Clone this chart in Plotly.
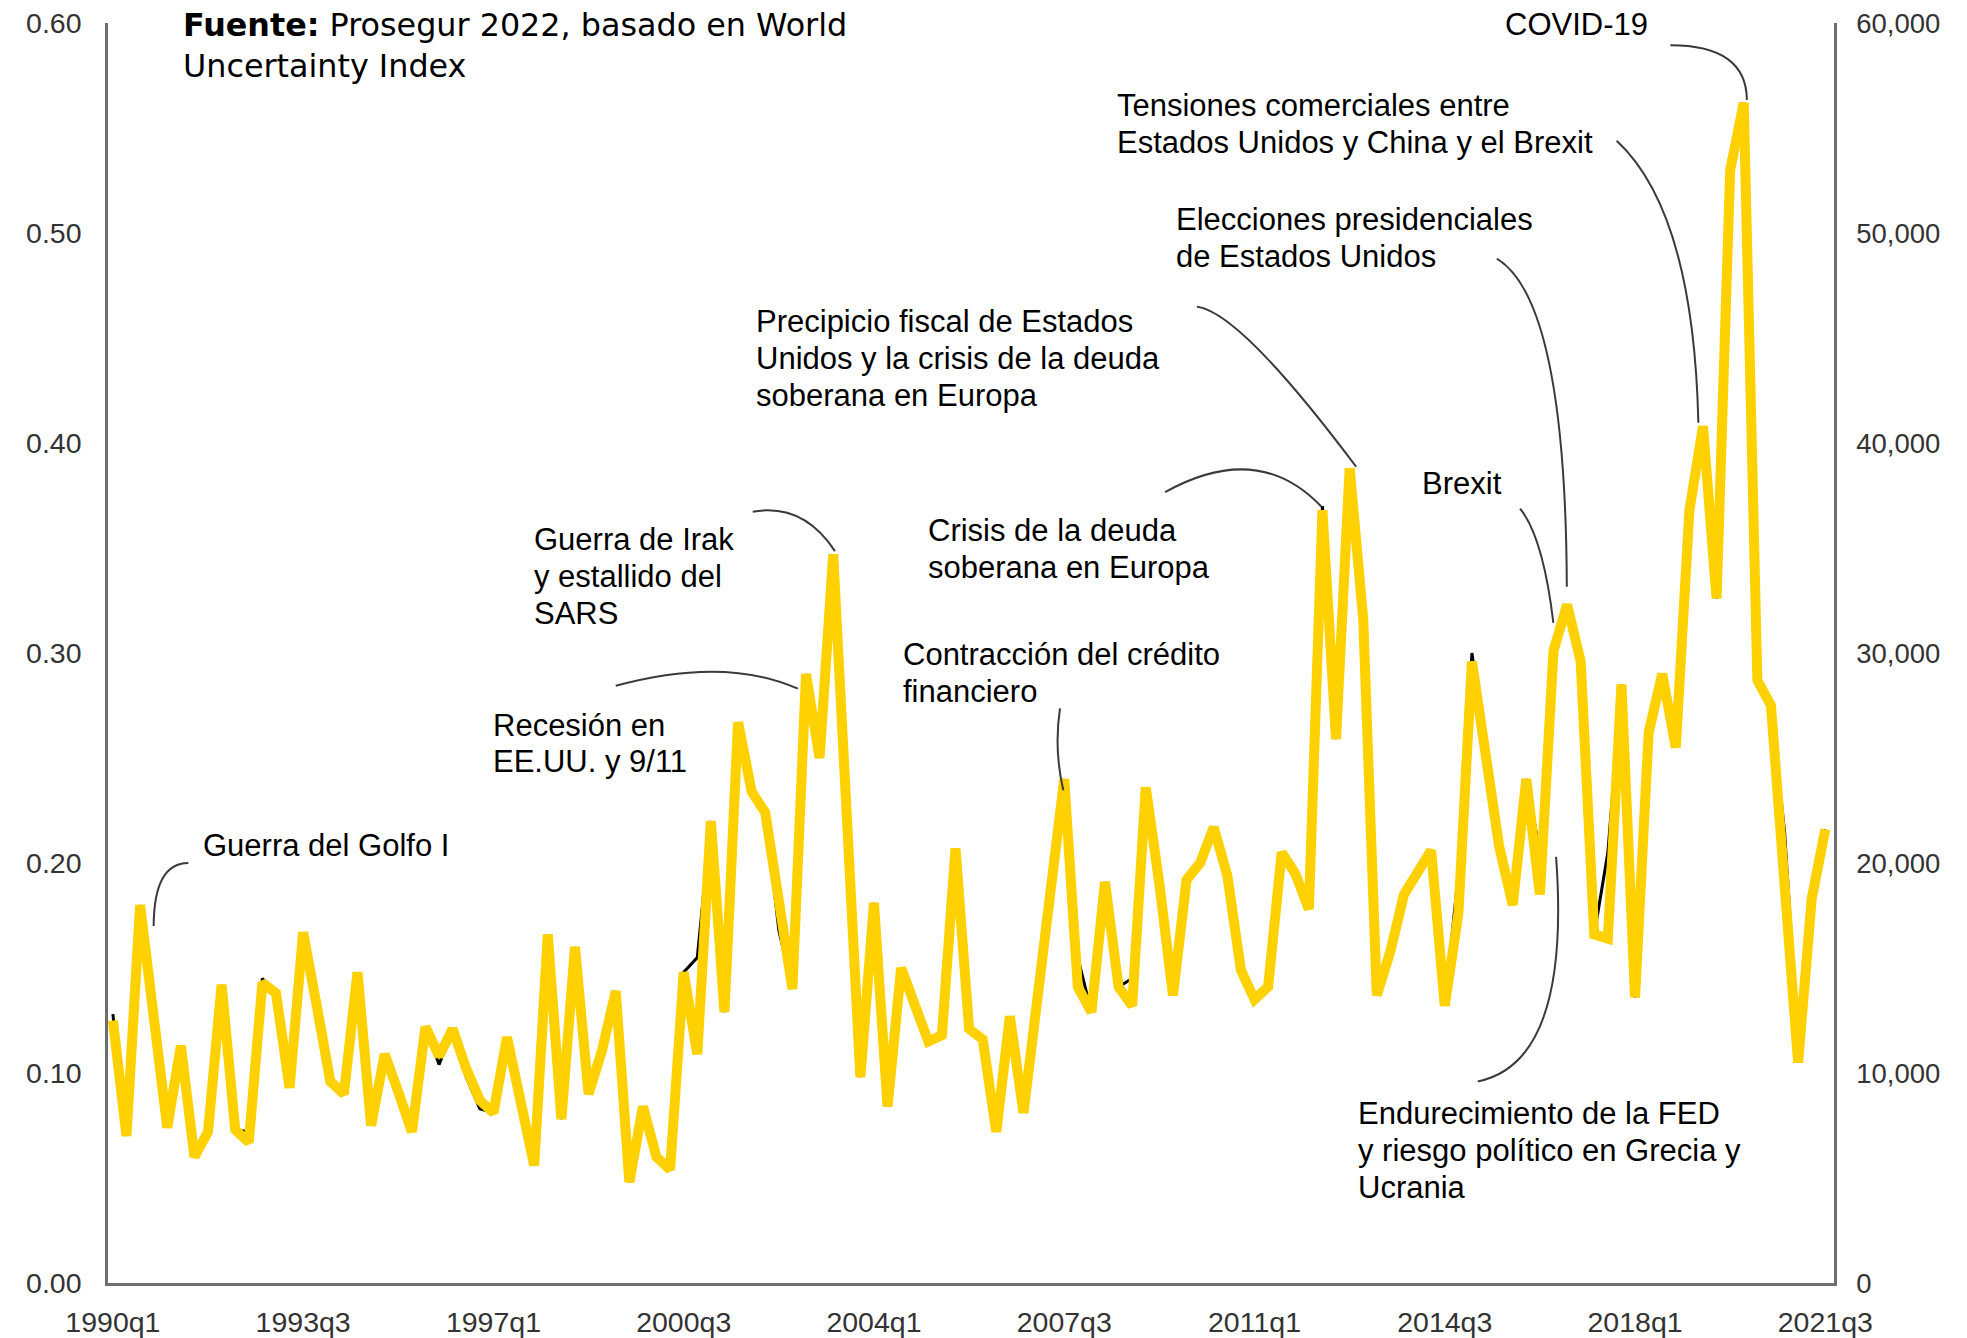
import plotly.graph_objects as go

# ---------------- data ----------------
quarters = [f"{y}q{q}" for y in range(1990, 2022) for q in range(1, 5)][:127]

wui_index = [
    0.125, 0.070, 0.180, 0.125, 0.074, 0.113, 0.060, 0.072, 0.142, 0.073,
    0.067, 0.143, 0.138, 0.093, 0.167, 0.132, 0.096, 0.090, 0.148, 0.075,
    0.109, 0.091, 0.072, 0.122, 0.108, 0.121, 0.102, 0.087, 0.081, 0.117,
    0.089, 0.056, 0.166, 0.078, 0.160, 0.090, 0.111, 0.139, 0.048, 0.084,
    0.060, 0.054, 0.148, 0.109, 0.220, 0.129, 0.267, 0.234, 0.224, 0.182,
    0.140, 0.290, 0.250, 0.347, 0.222, 0.098, 0.181, 0.084, 0.150, 0.134,
    0.115, 0.118, 0.207, 0.121, 0.116, 0.072, 0.127, 0.081, 0.132, 0.188,
    0.240, 0.141, 0.129, 0.191, 0.141, 0.132, 0.236, 0.190, 0.137, 0.192,
    0.200, 0.217, 0.194, 0.149, 0.135, 0.141, 0.205, 0.195, 0.178, 0.368,
    0.259, 0.388, 0.316, 0.137, 0.158, 0.185, 0.196, 0.206, 0.132, 0.176,
    0.296, 0.252, 0.208, 0.180, 0.240, 0.185, 0.301, 0.323, 0.296, 0.166,
    0.164, 0.285, 0.136, 0.262, 0.290, 0.255, 0.368, 0.408, 0.326, 0.530,
    0.562, 0.287, 0.275, 0.190, 0.105, 0.183, 0.216,
]

wui_weighted = [
    12800, 7000, 18000, 12500, 7400, 11300, 6000, 7200, 14200, 7300,
    7200, 14500, 13800, 9300, 16700, 12500, 9600, 9000, 14800, 7500,
    10900, 9100, 7200, 12200, 10400, 12100, 9800, 8300, 8100, 11700,
    8900, 5600, 16600, 7800, 16000, 9000, 11100, 13900, 4800, 8400,
    6000, 5400, 14800, 15500, 22000, 12900, 26700, 23400, 22400, 16800,
    14000, 29000, 25000, 34700, 22200, 9800, 18100, 8400, 15000, 13400,
    11500, 11800, 20700, 12100, 11600, 7200, 12700, 8100, 14000, 19500,
    24000, 15500, 12900, 19100, 14100, 14500, 23600, 19500, 14500, 19200,
    20000, 21700, 18800, 14900, 13500, 14100, 20500, 19500, 17800, 37000,
    25900, 38800, 31600, 13700, 15800, 18500, 19600, 20600, 13200, 19500,
    30000, 25200, 20800, 18000, 24000, 20500, 30100, 32300, 29600, 16600,
    20500, 28500, 13600, 26200, 29000, 25500, 36800, 40800, 32600, 53000,
    56200, 28700, 27500, 21500, 11500, 18300, 21600,
]

x_idx = list(range(len(quarters)))
tick_pos = list(range(0, len(quarters), 14))
tick_txt = [quarters[i] for i in tick_pos]

left_ticks = [0.0, 0.1, 0.2, 0.3, 0.4, 0.5, 0.6]
right_ticks = [0, 10000, 20000, 30000, 40000, 50000, 60000]

# annotation texts: (lines, x in quarter index, y of first line centre in left-axis units)
notes = [
    (["Guerra del Golfo I"], 6.45, 0.2084),
    (["Recesión en", "EE.UU. y 9/11"], 27.8, 0.2657),
    (["Guerra de Irak", "y estallido del", "SARS"], 30.85, 0.3540),
    (["Precipicio fiscal de Estados", "Unidos y la crisis de la deuda", "soberana en Europa"], 47.2, 0.4579),
    (["Crisis de la deuda", "soberana en Europa"], 59.85, 0.3582),
    (["Contracción del crédito", "financiero"], 58.0, 0.2991),
    (["Brexit"], 96.2, 0.3809),
    (["Elecciones presidenciales", "de Estados Unidos"], 78.1, 0.5063),
    (["Tensiones comerciales entre", "Estados Unidos y China y el Brexit"], 73.7, 0.5606),
    (["COVID-19"], 102.3, 0.5994),
    (["Endurecimiento de la FED", "y riesgo político en Grecia y", "Ucrania"], 91.5, 0.0806),
]
line_step = 0.0176

source_lines = ["<b>Fuente:</b> Prosegur 2022, basado en World", "Uncertainty Index"]
source_pos = (5.0, 0.5994)
source_step = 0.0197

# connector curves: (start, control, end)
connectors = [
    ((5.55, 0.200), (3.02, 0.200), (3.00, 0.170)),
    ((37.0, 0.2844), (45.0, 0.2985), (50.4, 0.283)),
    ((47.08, 0.3673), (50.8, 0.3715), (53.13, 0.3485)),
    ((79.77, 0.4649), (82.94, 0.4624), (91.48, 0.3887)),
    ((77.42, 0.3766), (84.3, 0.4014), (88.95, 0.3695)),
    ((69.69, 0.2736), (69.23, 0.2545), (69.93, 0.2346)),
    ((103.54, 0.3688), (105.24, 0.3552), (105.99, 0.3144)),
    ((101.83, 0.4878), (106.9, 0.468), (106.98, 0.3315)),
    ((110.65, 0.5439), (116.3, 0.510), (116.66, 0.4096)),
    ((114.6, 0.5894), (120.2, 0.5894), (120.23, 0.5633)),
    ((100.43, 0.0960), (107.3, 0.105), (106.19, 0.2030)),
]

# ---------------- figure ----------------
fig = go.Figure()

# weighted series on the base (right-hand) axis, drawn underneath
fig.add_trace(go.Scatter(
    x=x_idx, y=wui_weighted, mode="lines", yaxis="y",
    line=dict(color="#000000", width=3), hoverinfo="skip", showlegend=False,
))
# index on the overlaying (left-hand) axis, drawn on top
fig.add_trace(go.Scatter(
    x=x_idx, y=wui_index, mode="lines", yaxis="y2",
    line=dict(color="#FFD100", width=10), showlegend=False,
))

font_main = "Liberation Sans, Arial, sans-serif"
axis_col = "#6e6e6e"

annotations = []
for lines, xa, ya in notes:
    for k, ln in enumerate(lines):
        annotations.append(dict(
            text=ln, x=xa, y=ya - k * line_step, xref="x", yref="y2",
            xanchor="left", yanchor="middle", align="left", showarrow=False,
            font=dict(family=font_main, size=31, color="#000000"),
        ))
for k, ln in enumerate(source_lines):
    annotations.append(dict(
        text=ln, x=source_pos[0], y=source_pos[1] - k * source_step, xref="x", yref="y2",
        xanchor="left", yanchor="middle", align="left", showarrow=False,
        font=dict(family="DejaVu Sans, sans-serif", size=31.8, color="#000000"),
    ))

shapes = []
for (p0, c, p1) in connectors:
    shapes.append(dict(
        type="path", xref="x", yref="y2", layer="above",
        path=f"M {p0[0]},{p0[1]} Q {c[0]},{c[1]} {p1[0]},{p1[1]}",
        line=dict(color="#3a3a3a", width=2),
    ))

fig.update_layout(
    width=1967, height=1338,
    margin=dict(l=108, r=133, t=23, b=55),
    paper_bgcolor="white", plot_bgcolor="white",
    font=dict(family=font_main, color="#333333"),
    xaxis=dict(
        range=[-0.36, 126.64], showgrid=False, zeroline=False, automargin=False,
        showline=True, linecolor=axis_col, linewidth=2.5,
        tickmode="array", tickvals=tick_pos, ticktext=tick_txt, ticks="",
        tickfont=dict(family=font_main, size=28.5, color="#333333"),
        ticklabelstandoff=12,
    ),
    yaxis=dict(
        range=[0, 60000], side="right", showgrid=False, zeroline=False, automargin=False,
        showline=True, linecolor=axis_col, linewidth=2.5,
        tickmode="array", tickvals=right_ticks, ticktext=[f"{v:,}" for v in right_ticks],
        ticks="", tickfont=dict(family=font_main, size=27.5, color="#333333"),
        ticklabelstandoff=14,
    ),
    yaxis2=dict(
        range=[0, 0.6], overlaying="y", side="left", showgrid=False, zeroline=False,
        automargin=False,
        showline=True, linecolor=axis_col, linewidth=2.5,
        tickmode="array", tickvals=left_ticks, ticktext=[f"{v:.2f}" for v in left_ticks],
        ticks="", tickfont=dict(family=font_main, size=28.5, color="#333333"),
        ticklabelstandoff=18,
    ),
    annotations=annotations,
    shapes=shapes,
)

fig.write_html("out.html")
